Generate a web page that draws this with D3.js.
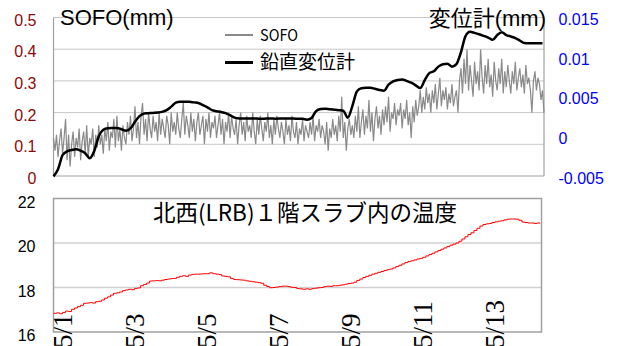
<!DOCTYPE html>
<html><head><meta charset="utf-8">
<script src="https://cdn.jsdelivr.net/npm/d3@7"></script>
<style>html,body{margin:0;padding:0;background:#fff;overflow:hidden}</style>
</head><body>
<svg id="chart" width="622" height="346"></svg>
<script>
// Measurement period: hourly index counted from 5/1 00:00
const startTime = new Date(2008, 4, 1, 0, 0);
const spanHours = 325;

// SOFO strain gauge reading (mm), one value per hour
const sofoStep = 1;
const sofoValues = [
  0.12,0.08,0.13,0.06,0.11,0.15,0.07,0.12,0.18,0.05,
  0.13,0.03,0.10,0.14,0.06,0.12,0.09,0.15,0.05,0.11,
  0.14,0.07,0.16,0.06,0.12,0.10,0.15,0.06,0.13,0.09,
  0.16,0.10,0.13,0.07,0.15,0.11,0.17,0.08,0.14,0.12,
  0.18,0.09,0.19,0.11,0.15,0.08,0.16,0.12,0.10,0.17,
  0.13,0.19,0.11,0.15,0.22,0.12,0.17,0.10,0.19,0.23,
  0.13,0.18,0.11,0.20,0.15,0.12,0.19,0.14,0.17,0.11,
  0.20,0.13,0.18,0.15,0.12,0.19,0.16,0.10,0.20,0.14,
  0.17,0.13,0.20,0.15,0.12,0.18,0.23,0.13,0.19,0.16,
  0.12,0.20,0.14,0.18,0.11,0.17,0.20,0.13,0.16,0.19,
  0.10,0.18,0.14,0.20,0.12,0.17,0.15,0.19,0.12,0.16,
  0.20,0.13,0.18,0.10,0.17,0.14,0.20,0.12,0.19,0.15,
  0.13,0.18,0.10,0.16,0.20,0.13,0.17,0.11,0.19,0.14,
  0.16,0.12,0.20,0.14,0.10,0.18,0.13,0.19,0.15,0.11,
  0.17,0.14,0.20,0.12,0.16,0.10,0.18,0.13,0.19,0.15,
  0.12,0.17,0.14,0.10,0.18,0.13,0.16,0.11,0.19,0.14,
  0.12,0.17,0.10,0.15,0.13,0.18,0.11,0.16,0.14,0.12,
  0.17,0.13,0.19,0.11,0.16,0.14,0.18,0.12,0.16,0.14,
  0.10,0.17,0.08,0.15,0.12,0.18,0.13,0.16,0.11,0.19,
  0.14,0.25,0.12,0.17,0.08,0.15,0.18,0.13,0.16,0.12,
  0.19,0.14,0.22,0.12,0.17,0.21,0.13,0.19,0.15,0.24,
  0.14,0.20,0.11,0.18,0.22,0.15,0.19,0.13,0.21,0.16,
  0.22,0.17,0.25,0.14,0.20,0.18,0.23,0.16,0.21,0.19,
  0.23,0.15,0.21,0.18,0.24,0.16,0.20,0.12,0.22,0.17,
  0.24,0.19,0.22,0.27,0.20,0.25,0.21,0.28,0.23,0.26,
  0.20,0.27,0.23,0.29,0.21,0.26,0.31,0.22,0.27,0.24,
  0.28,0.21,0.26,0.23,0.29,0.22,0.25,0.27,0.20,0.30,
  0.34,0.26,0.37,0.29,0.40,0.27,0.35,0.30,0.25,0.36,
  0.29,0.33,0.27,0.40,0.31,0.26,0.35,0.29,0.37,0.28,
  0.32,0.25,0.36,0.30,0.27,0.34,0.29,0.37,0.26,0.33,
  0.28,0.35,0.30,0.26,0.33,0.29,0.36,0.27,0.31,0.34,
  0.28,0.32,0.26,0.35,0.29,0.31,0.27,0.20,0.30,0.33,
  0.27,0.31,0.29,0.24,0.27,0.20
];

// Vertical displacement gauge (mm), one value every 3 hours
const dispStep = 3;
const dispValues = [
  -0.00504,-0.00415,-0.00238,-0.00188,-0.00173,-0.00162,-0.00181,-0.00213,-0.00276,-0.00183,
   0.00002, 0.00084, 0.00103, 0.00106, 0.00107, 0.00090, 0.00072, 0.00100, 0.00185, 0.00255,
   0.00290, 0.00293, 0.00296, 0.00300, 0.00309, 0.00331, 0.00375, 0.00425, 0.00436, 0.00436,
   0.00436, 0.00429, 0.00422, 0.00394, 0.00366, 0.00331, 0.00318, 0.00307, 0.00293, 0.00267,
   0.00236, 0.00226, 0.00224, 0.00224, 0.00226, 0.00224, 0.00222, 0.00224, 0.00225, 0.00223,
   0.00224, 0.00226, 0.00224, 0.00224, 0.00221, 0.00221, 0.00211, 0.00233, 0.00319, 0.00345,
   0.00350, 0.00343, 0.00337, 0.00331, 0.00324, 0.00236, 0.00381, 0.00567, 0.00608, 0.00613,
   0.00614, 0.00600, 0.00585, 0.00577, 0.00652, 0.00693, 0.00712, 0.00719, 0.00700, 0.00677,
   0.00644, 0.00609, 0.00710, 0.00798, 0.00821, 0.00880, 0.00910, 0.00916, 0.00880, 0.00912,
   0.01064, 0.01266, 0.01320, 0.01306, 0.01289, 0.01269, 0.01247, 0.01218, 0.01279, 0.01314,
   0.01279, 0.01260, 0.01241, 0.01209, 0.01178, 0.01174, 0.01174, 0.01174, 0.01174
];

// Slab temperature (°C), one value every 2 hours
const tempStep = 2;
const tempValues = [
  16.84,16.86,16.82,16.88,16.94,16.92,17.02,17.08,17.14,17.20,
  17.29,17.30,17.32,17.30,17.36,17.38,17.44,17.52,17.58,17.66,
  17.74,17.76,17.80,17.86,17.89,17.92,17.90,17.96,17.98,18.08,
  18.14,18.20,18.29,18.30,18.31,18.30,18.33,18.36,18.38,18.40,
  18.41,18.46,18.50,18.53,18.50,18.56,18.59,18.60,18.60,18.61,
  18.62,18.62,18.66,18.62,18.60,18.58,18.52,18.50,18.48,18.40,
  18.36,18.35,18.34,18.33,18.30,18.28,18.26,18.24,18.22,18.19,
  18.10,18.04,17.99,18.00,18.02,18.04,18.06,18.06,18.04,18.01,
  18.00,17.95,17.94,17.92,17.94,17.92,17.95,17.97,17.99,18.00,
  18.04,18.06,18.05,18.08,18.08,18.10,18.12,18.15,18.18,18.20,
  18.24,18.32,18.38,18.45,18.50,18.55,18.60,18.64,18.68,18.72,
  18.76,18.80,18.83,18.88,18.94,19.00,19.06,19.12,19.17,19.20,
  19.24,19.28,19.31,19.36,19.42,19.48,19.54,19.60,19.66,19.72,
  19.78,19.84,19.90,19.95,20.00,20.08,20.18,20.28,20.38,20.46,
  20.56,20.66,20.76,20.83,20.86,20.88,20.92,20.95,20.98,21.00,
  21.04,21.07,21.08,21.08,21.07,21.02,20.94,20.92,20.90,20.90,
  20.88,20.90,20.88
];

// Axis tick labels
const sofoTicks = [0, 0.1, 0.2, 0.3, 0.4, 0.5];
const dispTicks = [-0.005, 0, 0.005, 0.01, 0.015];
const dispTickLabels = ["-0.005", "0", "0.005", "0.01", "0.015"];
const tempTicks = [16, 18, 20, 22];
const dateTicks = [1, 3, 5, 7, 9, 11, 13];
const dateTickLabels = ["5/1", "5/3", "5/5", "5/7", "5/9", "5/11", "5/13"];

const HOUR = 3600e3;
const timeAt = (i, step) => new Date(startTime.getTime() + i * step * HOUR);
const endTime = timeAt(spanHours, 1);

const svg = d3.select("#chart");
const jp = "'Noto Sans CJK JP', sans-serif";
const sans = "'Liberation Sans', Arial, sans-serif";

// ---------- upper panel: SOFO vs displacement ----------
const upper = { l: 53.5, r: 544, t: 17.5, b: 176 };
const xTop = d3.scaleTime().domain([startTime, endTime]).range([upper.l, upper.r]);
const yLeft = d3.scaleLinear().domain([0, 0.5]).range([upper.b, upper.t]);
const yRight = d3.scaleLinear().domain([-0.005, 0.015]).range([upper.b, upper.t]);

const gTop = svg.append("g");
gTop.selectAll("line.grid").data(sofoTicks.filter(d => d > 0)).join("line")
  .attr("x1", upper.l).attr("x2", upper.r)
  .attr("y1", d => yLeft(d)).attr("y2", d => yLeft(d))
  .attr("stroke", "#c8c8c8").attr("stroke-width", 1);
gTop.append("line").attr("x1", upper.l).attr("x2", upper.l).attr("y1", upper.t).attr("y2", upper.b)
  .attr("stroke", "#a0a0a0").attr("stroke-width", 1.2);
gTop.append("line").attr("x1", upper.r).attr("x2", upper.r).attr("y1", upper.t).attr("y2", upper.b)
  .attr("stroke", "#a0a0a0").attr("stroke-width", 1.2);
gTop.append("line").attr("x1", upper.l).attr("x2", upper.r).attr("y1", upper.b).attr("y2", upper.b)
  .attr("stroke", "#a0a0a0").attr("stroke-width", 1.2);

gTop.selectAll("text.yl").data(sofoTicks).join("text")
  .attr("x", 36.5).attr("y", d => yLeft(d) + 2.5).attr("dy", "0.35em")
  .attr("text-anchor", "end").attr("font-family", sans).attr("font-size", 16)
  .attr("fill", "#8c0a0a").text(d => d3.format("")(d));

gTop.selectAll("text.yr").data(dispTicks).join("text")
  .attr("x", 558.5).attr("y", d => yRight(d) + 2).attr("dy", "0.35em")
  .attr("text-anchor", "start").attr("font-family", sans).attr("font-size", 16)
  .attr("fill", "#0000ff").text((d, i) => dispTickLabels[i]);

const sofoLine = d3.line()
  .x((d, i) => xTop(timeAt(i, sofoStep)))
  .y(d => yLeft(d));
gTop.append("path").datum(sofoValues).attr("d", sofoLine)
  .attr("fill", "none").attr("stroke", "#8a8a8a").attr("stroke-width", 1.2);

const dispLine = d3.line()
  .x((d, i) => xTop(timeAt(i, dispStep)))
  .y(d => yRight(d))
  .curve(d3.curveMonotoneX);
gTop.append("path").datum(dispValues).attr("d", dispLine)
  .attr("fill", "none").attr("stroke", "#000").attr("stroke-width", 2.5)
  .attr("stroke-linejoin", "round");

// axis titles
gTop.append("text").attr("x", 60).attr("y", 25)
  .attr("font-family", sans).attr("font-size", 22).attr("fill", "#000")
  .text("SOFO(mm)");
const rTitle = gTop.append("text").attr("x", 546).attr("y", 25.5)
  .attr("text-anchor", "end").attr("font-size", 22).attr("fill", "#000");
rTitle.append("tspan").attr("font-family", jp).text("変位計");
rTitle.append("tspan").attr("font-family", sans).text("(mm)");

// legend
const legend = [
  { name: "SOFO", color: "#8a8a8a", w: 2, y: 35, size: 16, len: 38 },
  { name: "鉛直変位計", color: "#000", w: 3, y: 62.5, size: 19, len: null }
];
const lg = gTop.selectAll("g.lg").data(legend).join("g");
lg.append("line").attr("x1", 225).attr("x2", 253)
  .attr("y1", d => d.y).attr("y2", d => d.y)
  .attr("stroke", d => d.color).attr("stroke-width", d => d.w);
lg.append("text").attr("x", 260).attr("y", d => d.y).attr("dy", "0.36em")
  .attr("font-family", jp).attr("font-size", d => d.size).attr("fill", "#000")
  .each(function (d) {
    const t = d3.select(this).text(d.name);
    if (d.len) t.attr("textLength", d.len).attr("lengthAdjust", "spacingAndGlyphs");
  });

// ---------- lower panel: slab temperature ----------
const lower = { l: 53.5, r: 541.5, t: 198.5, b: 332 };
const xBot = d3.scaleTime().domain([startTime, endTime]).range([lower.l, lower.r]);
const yTemp = d3.scaleLinear().domain([16, 22]).range([lower.b, lower.t]);

const gBot = svg.append("g");
gBot.selectAll("line.grid").data([18, 20]).join("line")
  .attr("x1", lower.l).attr("x2", lower.r)
  .attr("y1", d => yTemp(d)).attr("y2", d => yTemp(d))
  .attr("stroke", "#d0d0d0").attr("stroke-width", 1.6);
gBot.append("rect").attr("x", lower.l).attr("y", lower.t)
  .attr("width", lower.r - lower.l).attr("height", lower.b - lower.t)
  .attr("fill", "none").attr("stroke", "#a0a0a0").attr("stroke-width", 1.5);

gBot.selectAll("text.yl").data(tempTicks).join("text")
  .attr("x", 35.5).attr("y", d => yTemp(d) + 3.5).attr("dy", "0.35em")
  .attr("text-anchor", "end").attr("font-family", sans).attr("font-size", 16)
  .attr("fill", "#000").text(d => d);

const tempLine = d3.line()
  .x((d, i) => xBot(timeAt(i, tempStep)))
  .y(d => yTemp(d))
  .curve(d3.curveStepAfter);
gBot.append("path").datum(tempValues).attr("d", tempLine)
  .attr("fill", "none").attr("stroke", "#ff0000").attr("stroke-width", 1);

gBot.append("text").attr("x", 305).attr("y", 220.5).attr("text-anchor", "middle")
  .attr("font-family", jp).attr("font-size", 22.5).attr("fill", "#000")
  .text("北西(LRB)１階スラブ内の温度");

// date labels, rotated and running off the bottom edge
gBot.selectAll("text.xl").data(dateTicks).join("text")
  .attr("transform", d => {
    const x = xBot(new Date(2008, 4, d, 0, 0)) + 18.5;
    return `translate(${x},348) rotate(-90)`;
  })
  .attr("font-family", "'Liberation Serif', 'Times New Roman', serif")
  .attr("font-size", 27).attr("fill", "#000")
  .text((d, i) => dateTickLabels[i]);
</script>
</body></html>
